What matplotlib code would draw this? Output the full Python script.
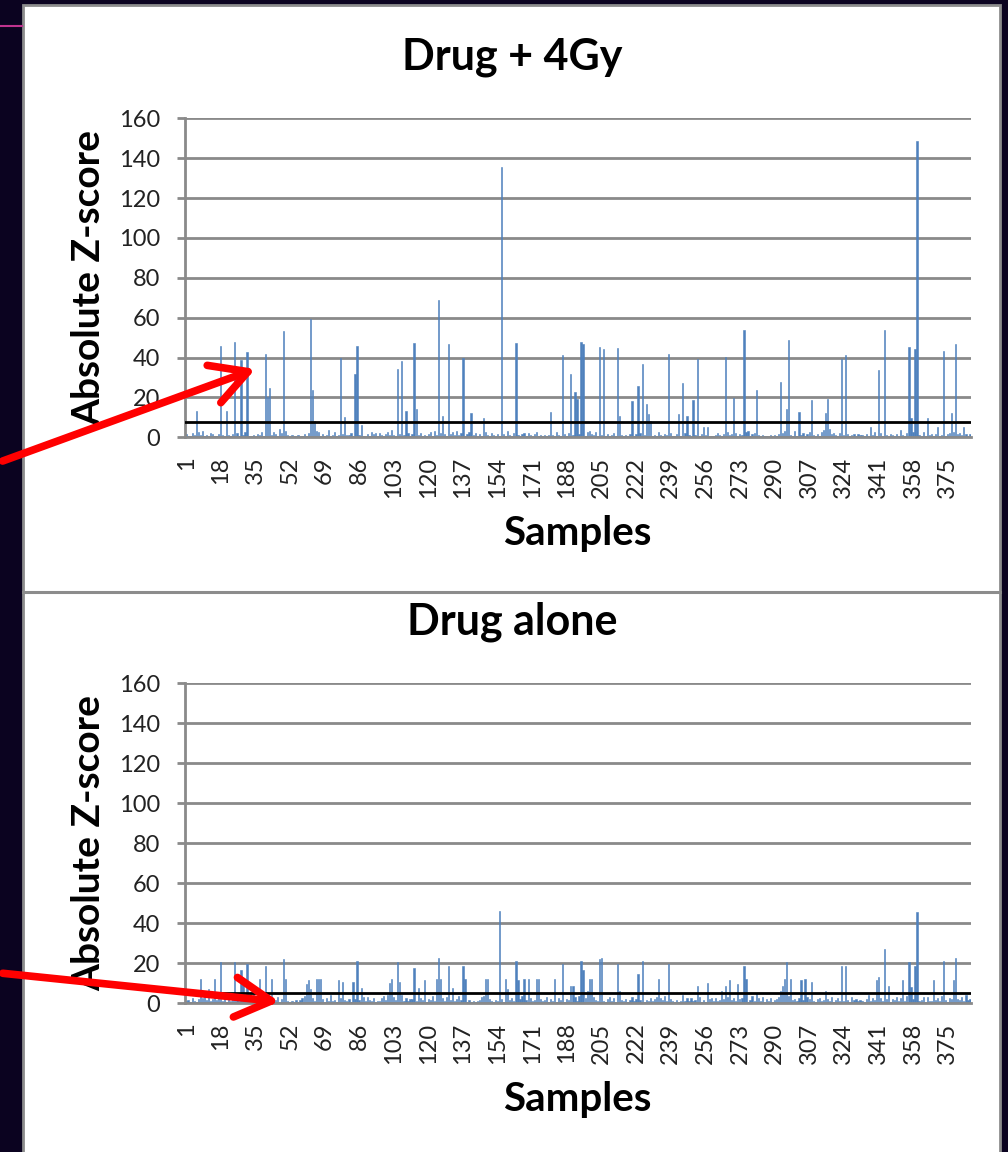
import matplotlib.pyplot as plt
import numpy as np
from matplotlib.patches import Rectangle, FancyArrowPatch
from matplotlib.lines import Line2D

plt.rcParams['font.family'] = ['Lato', 'DejaVu Sans']

# samples 1..386, absolute z-score per sample
n_samples = 386
samples = np.arange(1, n_samples + 1)
tick_samples = np.arange(1, n_samples + 1, 17)

drug_4gy = [
    1.5, 0.8, 0.6, 2.1, 1.2, 13.3, 2.8, 1.0, 3.2, 0.5, 1.1, 0.4, 2.4, 1.7, 0.6, 0.9, 1.8, 46, 1.3, 0.7,
    13.3, 1.0, 0.5, 1.6, 48, 2.2, 0.8, 38.8, 1.4, 2.6, 42.6, 0.9, 0.6, 1.2, 0.4, 1.9, 1.1, 2.5, 0.7, 42,
    20, 24.6, 1.3, 2.9, 1.6, 0.8, 4.1, 2.0, 53.3, 3.4, 1.2, 0.6, 1.1, 0.5, 0.9, 1.4, 0.3, 0.7, 1.5, 0.4,
    2.2, 59.3, 23.7, 8, 3.1, 2.7, 0.8, 1.9, 0.6, 1.2, 3.6, 0.9, 1.4, 2.8, 0.5, 1.1, 39.6, 1.7, 10, 1.3,
    1.0, 2.1, 0.6, 31.7, 46, 1.2, 6, 0.7, 0.4, 1.5, 0.9, 2.6, 1.8, 2.4, 0.8, 2.2, 1.1, 0.5, 1.6, 2.9,
    1.3, 3.7, 1.0, 0.6, 34.2, 1.9, 38.3, 1.2, 13.3, 2.4, 0.8, 1.5, 47.3, 14, 1.1, 2.0, 0.7, 1.4, 0.5, 1.8,
    2.6, 0.9, 3.3, 1.2, 68.9, 2.1, 10.8, 1.5, 0.6, 46.6, 1.8, 2.7, 1.0, 3.1, 1.4, 2.2, 40, 0.8, 1.6, 2.5,
    12, 1.1, 2.3, 0.7, 1.9, 0.5, 9.5, 2.8, 1.3, 0.6, 2.4, 1.0, 0.4, 1.7, 0.8, 135.6, 1.5, 0.6, 3.0, 1.2,
    0.9, 2.1, 47.3, 1.4, 0.7, 1.9, 2.4, 0.6, 2.3, 1.1, 0.4, 1.6, 2.7, 0.8, 1.2, 0.5, 1.3, 0.7, 1.0, 12.7,
    1.4, 0.6, 2.9, 1.1, 0.8, 41.4, 1.7, 0.5, 2.2, 31.7, 1.0, 22.6, 19.2, 1.5, 48, 46.6, 0.9, 2.6, 3.4, 1.8,
    1.2, 2.7, 0.8, 45.3, 1.3, 44.1, 0.6, 1.9, 0.5, 1.1, 2.3, 0.7, 44.6, 10.7, 1.4, 0.6, 1.0, 0.5, 1.6, 18,
    0.9, 1.7, 25.9, 2.4, 36.9, 1.2, 16.7, 11.5, 8, 0.6, 1.3, 0.8, 2.6, 1.0, 0.5, 1.8, 1.2, 42, 2.1, 0.7,
    0.9, 1.8, 11.5, 0.6, 27, 2.2, 10.8, 1.4, 0.7, 18.7, 1.2, 39.4, 0.8, 1.6, 5, 1.1, 5, 0.4, 0.9, 0.5,
    1.3, 2.0, 1.1, 0.6, 1.7, 40.1, 2.9, 1.0, 1.5, 19.6, 2.4, 0.8, 1.9, 1.2, 54, 2.8, 3.1, 0.7, 1.6, 2.3,
    23.9, 1.1, 0.6, 1.4, 0.5, 0.9, 0.4, 1.2, 0.3, 1.0, 0.6, 1.8, 27.7, 2.1, 3.4, 14, 48.6, 1.3, 0.7, 3.2,
    0.9, 12.7, 1.1, 2.4, 0.8, 1.6, 2.9, 18.5, 1.3, 0.6, 1.9, 0.7, 2.6, 3.8, 12, 19.4, 4.4, 1.5, 2.0, 1.1,
    0.7, 2.3, 39.4, 1.4, 41.4, 1.6, 0.8, 1.2, 1.5, 0.9, 1.7, 1.1, 1.4, 0.6, 1.9, 0.5, 5, 1.3, 2.8, 0.7,
    33.6, 2.1, 0.6, 54, 1.0, 0.4, 1.5, 1.4, 0.8, 1.6, 0.5, 3.6, 1.2, 0.7, 2.0, 45.4, 9.5, 2.6, 44.1, 148.6,
    1.1, 0.5, 2.8, 0.9, 9.5, 1.4, 1.7, 0.6, 1.9, 5, 0.8, 1.3, 43.4, 0.5, 1.8, 2.4, 12, 2.9, 46.6, 1.6,
    2.0, 1.2, 5, 1.5, 0.8, 1.9,
]

drug_alone = [
    0.8, 1.3, 0.5, 2.4, 1.1, 0.7, 1.9, 12, 2.6, 6, 1.4, 7, 0.9, 2.2, 12, 1.6, 3.0, 20.7, 1.2, 2.5,
    0.6, 1.8, 1.0, 2.7, 20.7, 1.5, 0.8, 16.7, 12, 2.1, 19.3, 1.2, 2.9, 6, 0.7, 1.6, 12, 2.3, 1.0, 18.7,
    2.8, 1.4, 12, 0.9, 1.7, 3.2, 0.6, 2.0, 21.8, 12, 1.1, 0.5, 0.8, 0.4, 1.3, 0.6, 1.5, 2.4, 3.3, 9.3,
    11.3, 7, 2.6, 1.2, 12, 12, 12, 1.8, 0.7, 2.3, 1.1, 4, 0.9, 1.6, 0.5, 11.3, 2.5, 10.7, 1.3, 0.8,
    1.9, 0.6, 10.7, 2.2, 21.2, 1.4, 7.3, 2.8, 1.0, 3.1, 1.7, 0.8, 2.4, 0.5, 1.2, 0.9, 2.6, 3.4, 1.5, 4.2,
    10.2, 12, 2.9, 1.6, 20.7, 10.7, 3.8, 1.2, 2.5, 0.9, 1.8, 2.2, 17.3, 1.0, 7.3, 2.7, 1.4, 11.3, 0.6, 2.0,
    1.3, 3.5, 0.8, 12, 22.5, 12, 2.4, 1.1, 3.0, 18.7, 1.6, 7.3, 0.9, 2.2, 3.6, 1.4, 18.7, 12, 0.7, 1.5,
    0.5, 1.2, 0.4, 0.9, 1.6, 2.8, 3.4, 12, 12, 2.1, 1.0, 0.6, 1.4, 0.8, 46, 1.9, 0.7, 12, 7, 1.3,
    2.5, 1.1, 21.2, 11.3, 2.0, 3.3, 12, 1.4, 12, 2.7, 0.8, 1.6, 12, 12, 2.2, 0.9, 1.5, 3.0, 0.6, 1.8,
    1.1, 12, 0.7, 2.4, 1.3, 19.3, 0.5, 2.1, 1.6, 8.7, 8.7, 2.9, 1.2, 3.5, 21.2, 16.3, 2.6, 6, 12, 12,
    3.2, 1.5, 0.8, 21.8, 22.5, 1.2, 0.6, 1.9, 3.0, 1.1, 2.3, 0.7, 19.3, 6, 1.7, 0.9, 2.2, 0.5, 1.4, 2.8,
    0.9, 2.0, 14.7, 1.3, 21.2, 0.6, 1.5, 1.1, 2.4, 0.8, 1.8, 3.1, 12, 2.6, 1.4, 3.3, 1.0, 19.3, 2.2, 1.2,
    0.7, 1.6, 0.5, 1.2, 4.0, 0.9, 2.3, 1.1, 2.6, 0.8, 1.4, 8.7, 2.9, 0.6, 1.5, 0.4, 10.2, 1.8, 2.7, 1.0,
    2.4, 0.9, 1.7, 6, 2.1, 8.7, 3.0, 11.3, 1.4, 2.6, 0.8, 9.3, 1.9, 2.7, 18.7, 12, 0.6, 1.5, 3.6, 1.2,
    5.0, 2.3, 1.1, 3.2, 0.7, 1.8, 1.0, 2.5, 0.5, 1.6, 2.2, 3.1, 6, 8.7, 12, 20.7, 3.4, 12, 1.3, 2.0,
    0.8, 2.7, 11.3, 1.5, 12, 3.0, 2.1, 10.7, 1.2, 0.6, 1.9, 2.4, 0.9, 1.4, 6, 2.2, 1.0, 2.9, 0.7, 1.6,
    2.5, 1.1, 18.3, 0.8, 18.3, 1.3, 0.6, 2.8, 1.5, 2.2, 0.9, 1.7, 1.2, 0.5, 2.0, 3.9, 1.1, 2.3, 1.4, 11.3,
    13, 2.6, 1.0, 26.8, 1.8, 8.7, 0.7, 2.1, 1.4, 3.2, 0.9, 2.5, 11.3, 1.2, 3.4, 20.7, 8, 2.0, 18.3, 45.3,
    0.8, 1.5, 2.9, 0.6, 3.0, 1.2, 0.9, 11.3, 1.7, 2.4, 1.1, 3.3, 21.2, 1.4, 0.7, 2.6, 1.9, 11.3, 22.5, 2.1,
    1.3, 3.0, 0.9, 4.0, 1.6, 2.2,
]

cutoff_4gy = 7.7
cutoff_alone = 5.0

W, H = 1008, 1152
BG = '#0b0320'
BAR = '#4f81bd'
GRID = '#8a8a8a'


def fx(px):
    return px / W


def fy(py):
    return 1 - py / H


fig = plt.figure(figsize=(W / 100, H / 100), dpi=100, facecolor=BG)

# white slide panel with grey border
fig.add_artist(Rectangle((fx(23), -0.01), fx(977), fy(5) + 0.01, transform=fig.transFigure,
                         facecolor='white', edgecolor='#8c8c8c', linewidth=2, zorder=-2))
fig.add_artist(Line2D([fx(23), fx(1000)], [fy(591.5)] * 2, color='#8c8c8c', linewidth=2.2, zorder=-1))
fig.add_artist(Line2D([0, fx(22)], [fy(26)] * 2, color='#c0338f', linewidth=1.5, zorder=-1))


def draw_chart(ax, values, cutoff):
    ax.bar(samples, values, width=0.6, color=BAR, edgecolor=BAR, linewidth=0.4, zorder=2)
    ax.axhline(cutoff, color='black', linewidth=2, zorder=3)
    ax.set_xlim(0.5, n_samples + 0.5)
    ax.set_ylim(0, 160)
    ax.set_yticks(np.arange(0, 161, 20))
    ax.set_xticks(tick_samples)
    ax.set_xticklabels([str(s) for s in tick_samples], rotation=90, fontsize=17, color='#222222')
    ax.tick_params(axis='x', length=0, pad=14)
    ax.tick_params(axis='y', length=6, width=2, color=GRID, pad=12, labelsize=17, labelcolor='#222222')
    ax.grid(axis='y', color=GRID, linewidth=2, zorder=0)
    ax.set_axisbelow(True)
    for s in ['top', 'right']:
        ax.spines[s].set_visible(False)
    for s in ['left', 'bottom']:
        ax.spines[s].set_color(GRID)
        ax.spines[s].set_linewidth(2)


ax1 = fig.add_axes([fx(185), fy(437.3), fx(786), 319 / H])
draw_chart(ax1, drug_4gy, cutoff_4gy)
ax2 = fig.add_axes([fx(185), fy(1003), fx(786), 320 / H])
draw_chart(ax2, drug_alone, cutoff_alone)

# titles and axis labels
fig.text(fx(512), fy(57), 'Drug + 4Gy', ha='center', va='center', fontsize=31, fontweight='bold')
fig.text(fx(512), fy(622), 'Drug alone', ha='center', va='center', fontsize=31, fontweight='bold')
fig.text(fx(89), fy(278), 'Absolute Z-score', rotation=90, ha='center', va='center', fontsize=28, fontweight='bold')
fig.text(fx(89), fy(843), 'Absolute Z-score', rotation=90, ha='center', va='center', fontsize=28, fontweight='bold')
fig.text(fx(577), fy(533), 'Samples', ha='center', va='center', fontsize=29, fontweight='bold')
fig.text(fx(577), fy(1100), 'Samples', ha='center', va='center', fontsize=29, fontweight='bold')

# red arrows pointing into the charts
for tail, tip in [((0, 462), (258, 368)), ((0, 973), (282, 1002))]:
    arr = FancyArrowPatch((fx(tail[0]), fy(tail[1])), (fx(tip[0]), fy(tip[1])),
                          transform=fig.transFigure, arrowstyle='->,head_length=1.0,head_width=0.55',
                          mutation_scale=26, color='#ff0000', linewidth=5.5, zorder=5)
    fig.add_artist(arr)

fig.savefig('out.png', dpi=100, facecolor=BG)
